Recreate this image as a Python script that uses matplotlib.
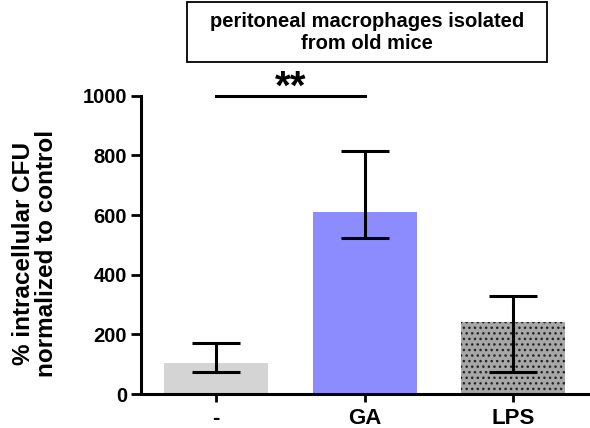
import numpy as np
import matplotlib
matplotlib.use("Agg")
import matplotlib.pyplot as plt
from matplotlib.patches import Rectangle

plt.rcParams["font.family"] = ["Liberation Sans", "DejaVu Sans"]
plt.rcParams["font.weight"] = "bold"
plt.rcParams["hatch.linewidth"] = 1.0

# ── Data ──────────────────────────────────────────────────────────────────────
groups     = ["-", "GA", "LPS"]
means      = [104, 611, 242]
err_low    = [74, 523, 74]
err_high   = [172, 815, 329]
colors     = ["#d4d4d4", "#8c8cff", "#a7a7a7"]
hatches    = ["", "", "..."]
yticks     = [0, 200, 400, 600, 800, 1000]

fig = plt.figure(figsize=(5.9, 4.28), dpi=100)
ax = fig.add_axes([0.239, 0.0794, 0.758, 0.697])

x = np.arange(len(groups))
for xi, m, c, h in zip(x, means, colors, hatches):
    ax.bar(xi, m, width=0.7, color=c, hatch=h, edgecolor="#222222", linewidth=0, zorder=2)

lo = np.array(means) - np.array(err_low)
hi = np.array(err_high) - np.array(means)
ax.errorbar(x, means, yerr=[lo, hi], fmt="none", ecolor="black",
            elinewidth=2.2, capsize=17, capthick=2.2, zorder=3)

ax.set_xlim(-0.505, 2.505)
ax.set_ylim(0, 1000)
ax.set_yticks(yticks)
ax.set_xticks(x)
ax.set_xticklabels(groups, fontsize=16, fontweight="bold")
ax.tick_params(axis="y", labelsize=14.5, width=2, length=7, pad=3)
ax.tick_params(axis="x", width=2, length=6, pad=4)
for lab in ax.get_yticklabels():
    lab.set_fontweight("bold")

for s in ["top", "right"]:
    ax.spines[s].set_visible(False)
for s in ["left", "bottom"]:
    ax.spines[s].set_linewidth(2.2)

ax.set_ylabel("% intracellular CFU\nnormalized to control", fontsize=17.5,
              fontweight="bold", linespacing=1.0)
ax.yaxis.set_label_coords(-0.185, 0.47)

# significance bar
ax.plot([0, 1], [1000, 1000], color="black", lw=2.2, clip_on=False, zorder=4)
ax.text(0.5, 988, "**", ha="center", va="baseline", fontsize=29,
        fontweight="bold", clip_on=False)

# title box
fig.patches.append(Rectangle((0.317, 0.855), 0.61, 0.14, transform=fig.transFigure,
                             facecolor="white", edgecolor="black", linewidth=1.3))
fig.text(0.622, 0.925, "peritoneal macrophages isolated\nfrom old mice",
         ha="center", va="center", fontsize=14.5, fontweight="bold",
         linespacing=1.2)

fig.savefig("out.png", dpi=100)
